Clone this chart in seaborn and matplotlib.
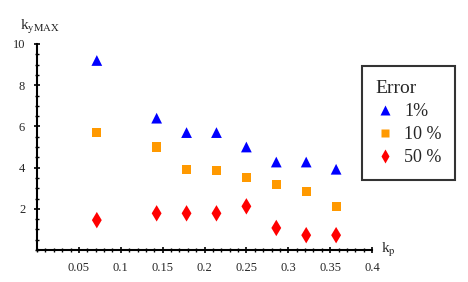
import matplotlib
matplotlib.use("Agg")
import matplotlib.pyplot as plt
import seaborn as sns
import pandas as pd
from matplotlib.ticker import MultipleLocator, FixedLocator
from matplotlib.lines import Line2D

kp = [2/28, 4/28, 5/28, 6/28, 7/28, 8/28, 9/28, 10/28]
err1 = [9.2, 6.4, 5.7, 5.7, 5.0, 4.27, 4.27, 3.92]
err10 = [5.7, 5.0, 3.9, 3.88, 3.53, 3.19, 2.83, 2.12]
err50 = [1.45, 1.78, 1.78, 1.78, 2.12, 1.07, 0.72, 0.72]
series_names = ["1%", "10 %", "50 %"]
colors = ["#0000FF", "#FF9900", "#FF0000"]
markers = ["^", "s", "d"]
sizes = [60, 42, 70]

sns.set_style("white")
plt.rcParams["font.family"] = ["Liberation Serif", "DejaVu Serif"]
plt.rcParams["mathtext.fontset"] = "stix"

df = pd.DataFrame({
    "kp": kp * 3,
    "ky": err1 + err10 + err50,
    "Error": [series_names[0]] * 8 + [series_names[1]] * 8 + [series_names[2]] * 8,
})

fig = plt.figure(figsize=(4.68, 2.82), dpi=100)
ax = fig.add_axes([37/468, 1 - 250/282, (372-37)/468, (250-44)/282])

for name, c, m, s in zip(series_names, colors, markers, sizes):
    sub = df[df["Error"] == name]
    sns.scatterplot(data=sub, x="kp", y="ky", color=c, marker=m, s=s,
                    edgecolor="none", ax=ax, legend=False)

ax.set_xlim(0, 0.4)
ax.set_ylim(0, 10)
ax.set_xlabel("")
ax.set_ylabel("")
ax.xaxis.set_major_locator(FixedLocator([0.05, 0.1, 0.15, 0.2, 0.25, 0.3, 0.35, 0.4]))
ax.xaxis.set_minor_locator(MultipleLocator(0.01))
ax.yaxis.set_major_locator(FixedLocator([2, 4, 6, 8, 10]))
ax.yaxis.set_minor_locator(MultipleLocator(0.5))
ax.set_xticklabels(["0.05", "0.1", "0.15", "0.2", "0.25", "0.3", "0.35", "0.4"])
ax.set_yticklabels(["2", "4", "6", "8", "10"])
ax.tick_params(axis="both", which="major", direction="inout", length=5, width=1.2,
               labelsize=9, color="black", pad=6)
ax.tick_params(axis="both", which="minor", direction="inout", length=3, width=1,
               color="black")
ax.tick_params(bottom=True, left=True, which="both")
for sp in ["top", "right"]:
    ax.spines[sp].set_visible(False)
for sp in ["left", "bottom"]:
    ax.spines[sp].set_linewidth(1.5)
    ax.spines[sp].set_color("black")

fig.text(20/468, 1 - 27/282, r"k$_{\mathrm{yMAX}}$", fontsize=11, ha="left", va="center")
fig.text(388/468, 1 - 250/282, r"k$_{\mathrm{p}}$", fontsize=11, ha="center", va="center")

handles = [Line2D([0], [0], marker=m, color="none", markerfacecolor=c,
                  markeredgecolor="none", markersize=ms)
           for m, c, ms in zip(markers, colors, [6.5, 5.5, 7])]
leg = fig.legend(handles, series_names, title="Error", loc="upper left",
                 bbox_to_anchor=(362/468, 1 - 66/282), frameon=True, fancybox=False,
                 edgecolor="black", fontsize=13, title_fontsize=14,
                 handletextpad=0.6, handlelength=1.0, borderpad=0.75, labelspacing=0.35,
                 borderaxespad=0)
leg.get_frame().set_linewidth(1.5)
leg._legend_box.align = "left"

fig.savefig("out.png", dpi=100)
